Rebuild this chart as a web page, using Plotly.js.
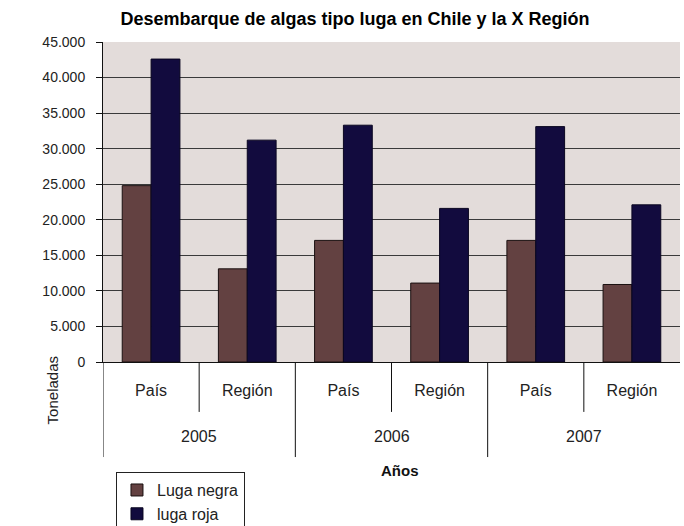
<!DOCTYPE html>
<html>
<head>
<meta charset="utf-8">
<script src="https://cdn.plot.ly/plotly-3.0.1.min.js"></script>
<style>html,body{margin:0;padding:0;background:#fff;}#chart{width:684px;height:526px;}</style>
</head>
<body>
<div id="chart"></div>
<script>
const years = ["2005", "2005", "2006", "2006", "2007", "2007"];
const zones = ["País", "Región", "País", "Región", "País", "Región"];
const yearLabels = ["2005", "2006", "2007"];
const lugaNegra = [24800, 13100, 17100, 11100, 17100, 10900];
const lugaRoja = [42600, 31200, 33300, 21600, 33100, 22100];
const seriesNames = ["Luga negra", "luga roja"];

const idx = zones.map((z, i) => i);

const traces = [
  {type: "bar", name: seriesNames[0], x: idx, y: lugaNegra,
   marker: {color: "#634141", line: {color: "#1a1010", width: 1}}},
  {type: "bar", name: seriesNames[1], x: idx, y: lugaRoja,
   marker: {color: "#120b3e", line: {color: "#0a0620", width: 1}}}
];

const shapes = [];
for (let i = 0; i <= zones.length - 1; i++) {
  const b = i - 0.5;
  const isYearBoundary = (i === 0) || years[i] !== years[i - 1];
  shapes.push({type: "line", xref: "x", yref: "paper", x0: b, x1: b,
    y0: 0, y1: isYearBoundary ? -0.297 : -0.156,
    line: {color: "#111", width: 1}});
}

const annotations = [];
yearLabels.forEach((yl) => {
  const pos = years.map((y, i) => y === yl ? i : null).filter(v => v !== null);
  const c = (pos[0] + pos[pos.length - 1]) / 2;
  annotations.push({xref: "x", yref: "paper", x: c, y: -0.234, text: yl,
    showarrow: false, xanchor: "center", yanchor: "middle",
    font: {family: "Liberation Sans, Arial, sans-serif", size: 16, color: "#222"}});
});
annotations.push({xref: "paper", yref: "paper", x: -0.088, y: -0.088, text: "Toneladas",
  textangle: -90, showarrow: false, xanchor: "center", yanchor: "middle",
  font: {family: "Liberation Sans, Arial, sans-serif", size: 15, color: "#222"}});
annotations.push({xref: "paper", yref: "paper", x: 0.515, y: -0.338, text: "<b>Años</b>",
  showarrow: false, xanchor: "center", yanchor: "middle",
  font: {family: "Liberation Sans, Arial, sans-serif", size: 15, color: "#111"}});

const layout = {
  width: 684, height: 526,
  margin: {l: 103, r: 4, t: 42, b: 164, autoexpand: false},
  paper_bgcolor: "#ffffff",
  plot_bgcolor: "#e3dcda",
  separators: ",.",
  barmode: "group",
  bargap: 0.4,
  bargroupgap: 0,
  showlegend: true,
  title: {text: "<b>Desembarque de algas tipo luga en Chile y la X Región</b>",
    xref: "container", x: 0.519, xanchor: "center", y: 0.964, yanchor: "middle",
    font: {family: "Liberation Sans, Arial, sans-serif", size: 18, color: "#000"}},
  xaxis: {
    type: "linear", range: [-0.5, zones.length - 0.5],
    tickmode: "array", tickvals: idx, ticktext: zones,
    ticks: "", showgrid: false, zeroline: false,
    showline: true, linecolor: "#111", linewidth: 1,
    ticklabelstandoff: 14,
    tickfont: {family: "Liberation Sans, Arial, sans-serif", size: 16, color: "#222"}
  },
  yaxis: {
    range: [0, 45000], dtick: 5000, tick0: 0, tickformat: ",d",
    ticks: "outside", ticklen: 6, tickcolor: "#111",
    showline: true, linecolor: "#111", linewidth: 1,
    showgrid: true, gridcolor: "#3a3a3a", gridwidth: 1, zeroline: false,
    ticklabelstandoff: 8,
    tickfont: {family: "Liberation Sans, Arial, sans-serif", size: 14, color: "#222"}
  },
  legend: {x: 0.0225, y: -0.344, xanchor: "left", yanchor: "top",
    orientation: "v", bgcolor: "#ffffff", bordercolor: "#222", borderwidth: 1,
    font: {family: "Liberation Sans, Arial, sans-serif", size: 16, color: "#222"},
    itemwidth: 30, tracegroupgap: 0},
  shapes: shapes,
  annotations: annotations
};

Plotly.newPlot("chart", traces, layout, {displayModeBar: false, staticPlot: true});
</script>
</body>
</html>
